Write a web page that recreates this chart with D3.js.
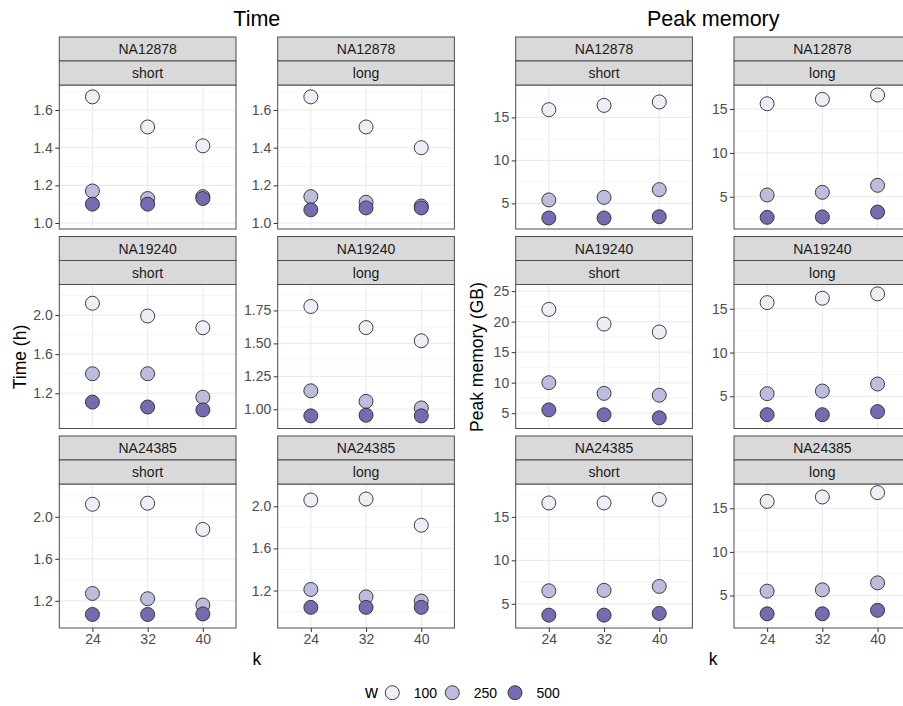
<!DOCTYPE html>
<html>
<head>
<meta charset="utf-8">
<script src="https://cdn.jsdelivr.net/npm/d3@7"></script>
<style>
  body { margin: 0; background: #fff; }
  text { font-family: "Liberation Sans", Arial, Helvetica, sans-serif; }
</style>
</head>
<body>
<svg id="chart" width="903" height="706"></svg>
<script>
// ---- categories ----
const kValues = ["24", "32", "40"];
const wLevels = ["100", "250", "500"];
const wColors = ["#EFEDF5", "#BCBDDC", "#756BB1"];
const samples = ["NA12878", "NA19240", "NA24385"];
const readTypes = ["short", "long"];

// ---- Time (h): one row per w (100, 250, 500), one value per k (24, 32, 40) ----
const timeNA12878Short = [[1.67, 1.51, 1.41], [1.17, 1.13, 1.14], [1.10, 1.10, 1.13]];
const timeNA12878Long  = [[1.67, 1.51, 1.40], [1.14, 1.11, 1.09], [1.07, 1.08, 1.08]];
const timeNA19240Short = [[2.12, 1.99, 1.87], [1.40, 1.40, 1.16], [1.11, 1.06, 1.03]];
const timeNA19240Long  = [[1.78, 1.62, 1.52], [1.14, 1.06, 1.01], [0.95, 0.955, 0.95]];
const timeNA24385Short = [[2.12, 2.13, 1.88], [1.27, 1.22, 1.16], [1.07, 1.07, 1.075]];
const timeNA24385Long  = [[2.06, 2.07, 1.82], [1.21, 1.14, 1.10], [1.04, 1.04, 1.04]];

// ---- Peak memory (GB) ----
const memNA12878Short = [[15.9, 16.4, 16.8], [5.4, 5.7, 6.6], [3.3, 3.3, 3.45]];
const memNA12878Long  = [[15.6, 16.1, 16.6], [5.2, 5.5, 6.3], [2.65, 2.7, 3.25]];
const memNA19240Short = [[22.0, 19.6, 18.3], [10.0, 8.25, 7.95], [5.55, 4.75, 4.25]];
const memNA19240Long  = [[15.7, 16.2, 16.7], [5.3, 5.6, 6.4], [2.9, 2.9, 3.25]];
const memNA24385Short = [[16.6, 16.6, 17.0], [6.5, 6.55, 7.0], [3.7, 3.7, 3.9]];
const memNA24385Long  = [[15.8, 16.3, 16.8], [5.5, 5.65, 6.45], [2.9, 2.9, 3.3]];

// ---- free y scales: limits and tick labels per facet (row-major: sample, read type) ----
const timeLimits = [[0.968, 1.733], [0.968, 1.733], [0.84, 2.312], [0.854, 1.947], [0.941, 2.313], [0.844, 2.212]];
const timeTicks = [
  ["1.0", "1.2", "1.4", "1.6"], ["1.0", "1.2", "1.4", "1.6"],
  ["1.2", "1.6", "2.0"], ["1.00", "1.25", "1.50", "1.75"],
  ["1.2", "1.6", "2.0"], ["1.2", "1.6", "2.0"]
];
const memLimits = [[2.02, 18.77], [1.32, 17.74], [2.5, 26.08], [1.32, 17.77], [2.22, 18.78], [1.27, 17.79]];
const memTicks = [
  ["5", "10", "15"], ["5", "10", "15"],
  ["5", "10", "15", "20", "25"], ["5", "10", "15"],
  ["5", "10", "15"], ["5", "10", "15"]
];

const timeData = [timeNA12878Short, timeNA12878Long, timeNA19240Short, timeNA19240Long, timeNA24385Short, timeNA24385Long];
const memData = [memNA12878Short, memNA12878Long, memNA19240Short, memNA19240Long, memNA24385Short, memNA24385Long];

// ---- layout ----
const svg = d3.select("#chart");
const panelW = 176.7, panelH = 144, stripH = 24;
const stripTop0 = 37, rowStep = 199.5;
const borderCol = "#4d4d4d";
const pointR = 7;

const blocks = [
  { title: "Time", yTitle: "Time (h)", colLeft: [59.3, 277.7], data: timeData, limits: timeLimits, ticks: timeTicks, yTitleX: 26 },
  { title: "Peak memory", yTitle: "Peak memory (GB)", colLeft: [515.7, 734], data: memData, limits: memLimits, ticks: memTicks, yTitleX: 483 }
];

const x = d3.scalePoint().domain(kValues).range([0, panelW]).padding(0.6);

function minorBreaks(vals, domain) {
  const out = [];
  const step = vals.length > 1 ? vals[1] - vals[0] : 1;
  const all = [vals[0] - step / 2];
  for (let i = 0; i < vals.length - 1; i++) all.push((vals[i] + vals[i + 1]) / 2);
  all.push(vals[vals.length - 1] + step / 2);
  all.forEach(v => { if (v >= domain[0] && v <= domain[1]) out.push(v); });
  return out;
}

blocks.forEach(block => {
  const left = block.colLeft[0];
  const right = block.colLeft[1] + panelW;
  const cx = (left + right) / 2;

  svg.append("text").attr("x", cx).attr("y", 26).attr("text-anchor", "middle")
    .style("font-size", "21.5px").attr("fill", "#000").text(block.title);

  svg.append("text").attr("x", cx).attr("y", 665).attr("text-anchor", "middle")
    .style("font-size", "17.5px").attr("fill", "#000").text("k");

  svg.append("text")
    .attr("transform", `translate(${block.yTitleX},357) rotate(-90)`)
    .attr("text-anchor", "middle").style("font-size", "17.5px").attr("fill", "#000")
    .text(block.yTitle);

  samples.forEach((sample, si) => {
    readTypes.forEach((rt, ri) => {
      const idx = si * 2 + ri;
      const px = block.colLeft[ri];
      const sTop = stripTop0 + si * rowStep;
      const pTop = sTop + 2 * stripH;
      const g = svg.append("g").attr("transform", `translate(${px},${pTop})`);

      const dom = block.limits[idx];
      const y = d3.scaleLinear().domain(dom).range([panelH, 0]);
      const tickVals = block.ticks[idx].map(Number);

      // grid
      g.selectAll(".minor").data(minorBreaks(tickVals, dom)).join("line")
        .attr("x1", 0).attr("x2", panelW).attr("y1", d => y(d)).attr("y2", d => y(d))
        .attr("stroke", "#F2F2F2").attr("stroke-width", 0.7);
      g.selectAll(".major").data(tickVals).join("line")
        .attr("x1", 0).attr("x2", panelW).attr("y1", d => y(d)).attr("y2", d => y(d))
        .attr("stroke", "#EBEBEB").attr("stroke-width", 1.1);
      g.selectAll(".vmajor").data(kValues).join("line")
        .attr("x1", d => x(d)).attr("x2", d => x(d)).attr("y1", 0).attr("y2", panelH)
        .attr("stroke", "#EBEBEB").attr("stroke-width", 1.1);

      // points (w = 100 first, 500 on top)
      const pts = [];
      block.data[idx].forEach((row, wi) => row.forEach((v, ki) => pts.push({ w: wi, k: kValues[ki], v })));
      g.selectAll("circle").data(pts).join("circle")
        .attr("cx", d => x(d.k)).attr("cy", d => y(d.v)).attr("r", pointR)
        .attr("fill", d => wColors[d.w]).attr("stroke", "#2b2b2b").attr("stroke-width", 0.9);

      // panel border
      g.append("rect").attr("width", panelW).attr("height", panelH)
        .attr("fill", "none").attr("stroke", borderCol).attr("stroke-width", 1);

      // strips
      [sample, rt].forEach((lab, li) => {
        const sy = sTop + li * stripH;
        svg.append("rect").attr("x", px).attr("y", sy).attr("width", panelW).attr("height", stripH)
          .attr("fill", "#D9D9D9").attr("stroke", borderCol).attr("stroke-width", 1);
        svg.append("text").attr("x", px + panelW / 2).attr("y", sy + stripH / 2 + 5)
          .attr("text-anchor", "middle").style("font-size", "14px").attr("fill", "#1A1A1A").text(lab);
      });

      // y axis
      const yAxis = d3.axisLeft(y).tickValues(tickVals)
        .tickFormat((d, i) => block.ticks[idx][i]).tickSize(4).tickPadding(2.5);
      const ya = g.append("g").call(yAxis);
      ya.select(".domain").remove();
      ya.selectAll(".tick line").attr("stroke", "#333");
      ya.selectAll(".tick text").attr("fill", "#4D4D4D").style("font-size", "14px");

      // x axis on the bottom row
      if (si === samples.length - 1) {
        const xa = g.append("g").attr("transform", `translate(0,${panelH})`)
          .call(d3.axisBottom(x).tickSize(4).tickPadding(2.5));
        xa.select(".domain").remove();
        xa.selectAll(".tick line").attr("stroke", "#333");
        xa.selectAll(".tick text").attr("fill", "#4D4D4D").style("font-size", "14px");
      }
    });
  });
});

// ---- legend ----
const legend = svg.append("g");
legend.append("text").attr("x", 365).attr("y", 698).style("font-size", "18px").attr("fill", "#000").text("w");
const legendX = [392.3, 452.3, 515];
wLevels.forEach((w, i) => {
  legend.append("circle").attr("cx", legendX[i]).attr("cy", 692.7).attr("r", pointR)
    .attr("fill", wColors[i]).attr("stroke", "#2b2b2b").attr("stroke-width", 0.9);
  legend.append("text").attr("x", legendX[i] + 21.5).attr("y", 698).style("font-size", "14px")
    .attr("fill", "#000").text(w);
});
</script>
</body>
</html>
